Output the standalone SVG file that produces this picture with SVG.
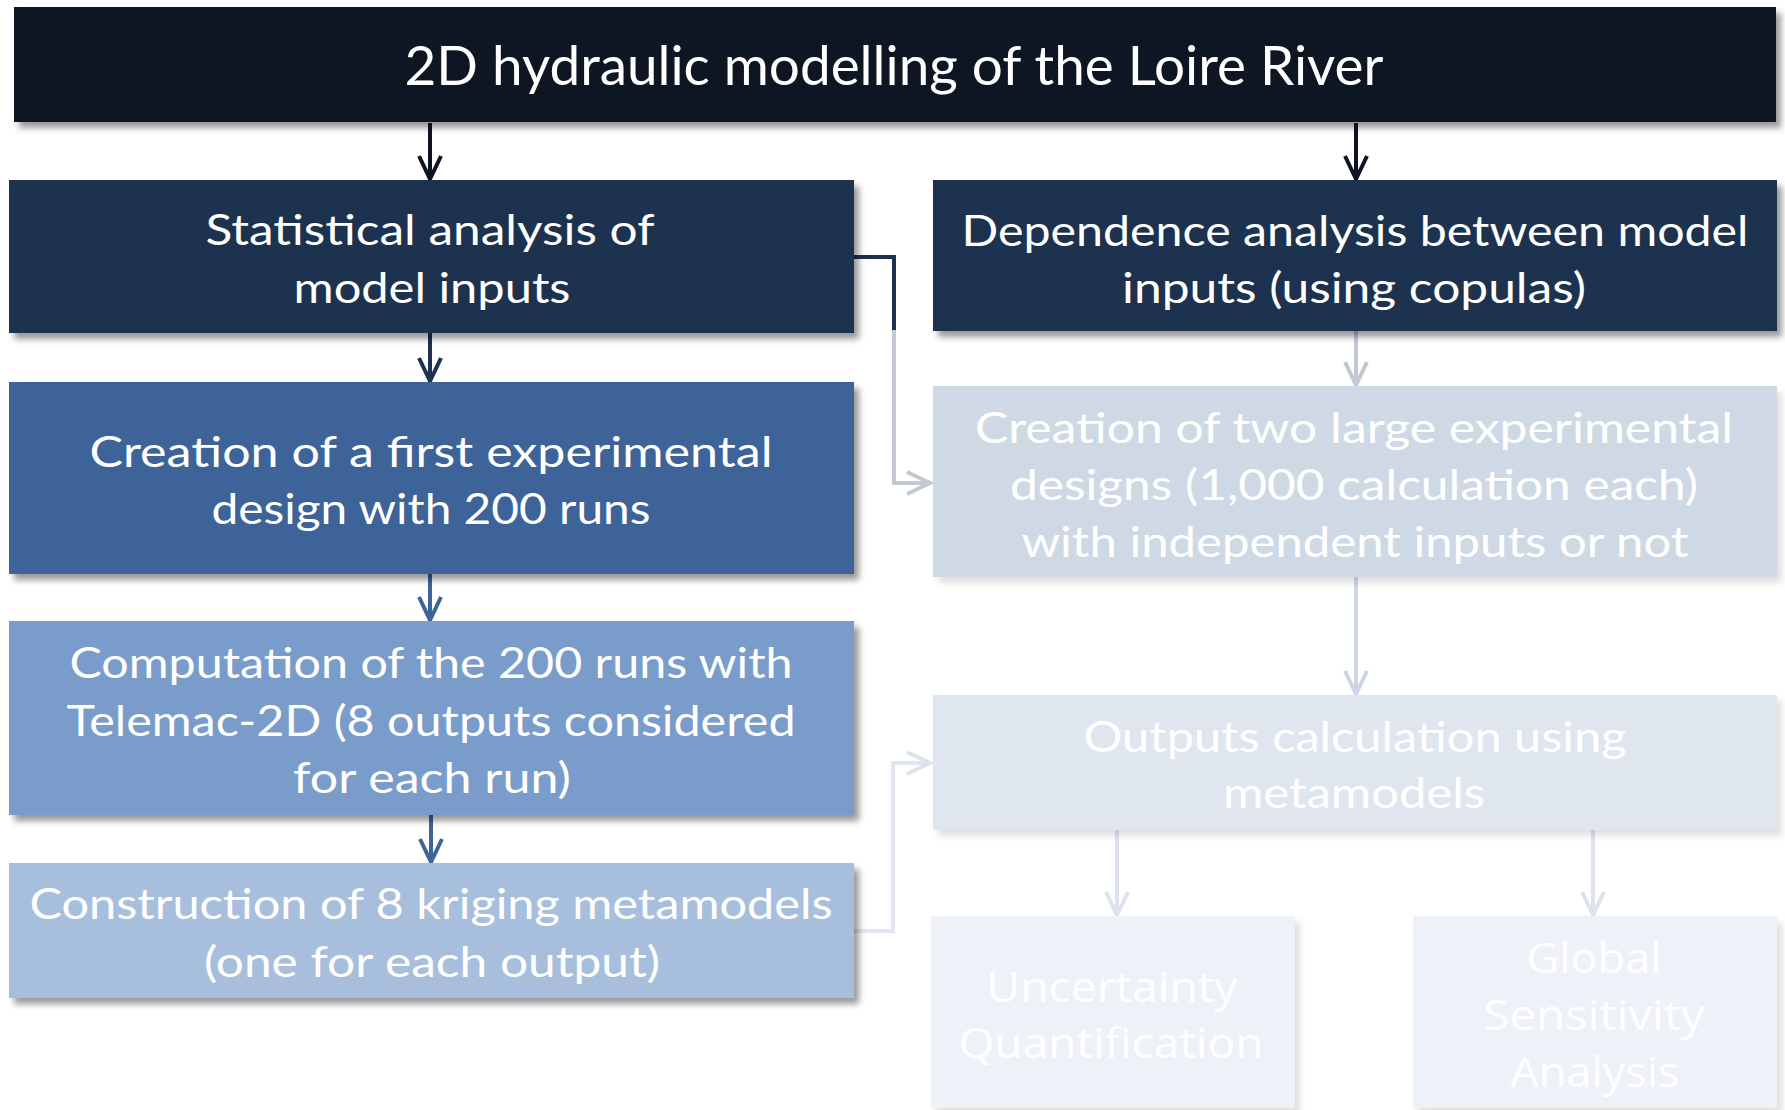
<svg xmlns="http://www.w3.org/2000/svg" width="1785" height="1110" viewBox="0 0 1785 1110">
<style>
.t{font-family:"Lato","Open Sans","DejaVu Sans",sans-serif;font-size:42px;fill:#ffffff;text-anchor:middle}
.t2{font-family:"Open Sans","Noto Sans","DejaVu Sans",sans-serif;font-size:42px;fill:#ffffff;text-anchor:middle}
.title{font-family:"Lato","Open Sans","DejaVu Sans",sans-serif;font-size:54px;fill:#ffffff;text-anchor:middle}
.c{fill:none;stroke-width:4}
</style>
<defs>
<filter id="sh" x="-5%" y="-10%" width="112%" height="130%">
<feDropShadow dx="5" dy="6" stdDeviation="3" flood-color="#000000" flood-opacity="0.4"/>
</filter>
<filter id="shl" x="-5%" y="-10%" width="112%" height="130%">
<feDropShadow dx="5" dy="6" stdDeviation="3" flood-color="#000000" flood-opacity="0.12"/>
</filter>
<marker id="m-dark" viewBox="-30 -16 34 32" refX="0" refY="0" markerWidth="34" markerHeight="32" markerUnits="userSpaceOnUse" orient="auto"><path d="M-24,-11 L-1,0 L-24,11" fill="none" stroke="#0f1520" stroke-width="4"/></marker>
<marker id="m-navy" viewBox="-30 -16 34 32" refX="0" refY="0" markerWidth="34" markerHeight="32" markerUnits="userSpaceOnUse" orient="auto"><path d="M-24,-11 L-1,0 L-24,11" fill="none" stroke="#1f3150" stroke-width="4"/></marker>
<marker id="m-blue" viewBox="-30 -16 34 32" refX="0" refY="0" markerWidth="34" markerHeight="32" markerUnits="userSpaceOnUse" orient="auto"><path d="M-24,-11 L-1,0 L-24,11" fill="none" stroke="#3e6499" stroke-width="4"/></marker>
<marker id="m-gray" viewBox="-30 -16 34 32" refX="0" refY="0" markerWidth="34" markerHeight="32" markerUnits="userSpaceOnUse" orient="auto"><path d="M-24,-11 L-1,0 L-24,11" fill="none" stroke="#c3c9d2" stroke-width="4"/></marker>
<marker id="m-light" viewBox="-30 -16 34 32" refX="0" refY="0" markerWidth="34" markerHeight="32" markerUnits="userSpaceOnUse" orient="auto"><path d="M-24,-11 L-1,0 L-24,11" fill="none" stroke="#cdd6e2" stroke-width="4"/></marker>
<marker id="m-pale" viewBox="-30 -16 34 32" refX="0" refY="0" markerWidth="34" markerHeight="32" markerUnits="userSpaceOnUse" orient="auto"><path d="M-24,-11 L-1,0 L-24,11" fill="none" stroke="#dce3ed" stroke-width="4"/></marker>
</defs>
<rect width="1785" height="1110" fill="#ffffff"/>

<g id="connectors">
<path class="c" d="M430,123 V180" stroke="#0f1520" marker-end="url(#m-dark)"/>
<path class="c" d="M1356,123 V180" stroke="#0f1520" marker-end="url(#m-dark)"/>
<path class="c" d="M430,333 V382" stroke="#1f3150" marker-end="url(#m-navy)"/>
<path class="c" d="M430,574 V621" stroke="#3e6499" marker-end="url(#m-blue)"/>
<path class="c" d="M431,815 V863" stroke="#3e6499" marker-end="url(#m-blue)"/>
<path class="c" d="M1356,331 V386" stroke="#c3c9d2" marker-end="url(#m-gray)"/>
<path class="c" d="M894,330 V483 H931" stroke="#c3c9d2" marker-end="url(#m-gray)"/>
<path class="c" d="M854,257 H894 V330" stroke="#1f3150"/>
<path class="c" d="M1356,577 V695" stroke="#cdd6e2" marker-end="url(#m-light)"/>
<path class="c" d="M854,931 H893 V763 H931" stroke="#e0e7f1" marker-end="url(#m-pale)"/>
<path class="c" d="M1117,830 V916" stroke="#dce3ed" marker-end="url(#m-pale)"/>
<path class="c" d="M1593,830 V916" stroke="#dce3ed" marker-end="url(#m-pale)"/>
</g>

<g id="title">
<rect x="14" y="7" width="1762" height="115" fill="#0f1520" filter="url(#sh)"/>
<text class="title" x="894" y="85" textLength="979" lengthAdjust="spacingAndGlyphs">2D hydraulic modelling of the Loire River</text>
</g>

<g id="statistical">
<rect x="9" y="180" width="845" height="153" fill="#1f3150" filter="url(#sh)"/>
<text class="t" x="430" y="245" textLength="449" lengthAdjust="spacingAndGlyphs">Statistical analysis of</text>
<text class="t" x="432" y="303" textLength="277" lengthAdjust="spacingAndGlyphs">model inputs</text>
</g>

<g id="first-design">
<rect x="9" y="382" width="845" height="192" fill="#3e6499" filter="url(#sh)"/>
<text class="t" x="431" y="467" textLength="683" lengthAdjust="spacingAndGlyphs">Creation of a first experimental</text>
<text class="t" x="431" y="524" textLength="439" lengthAdjust="spacingAndGlyphs">design with 200 runs</text>
</g>

<g id="computation">
<rect x="9" y="621" width="845" height="194" fill="#7a9ccb" filter="url(#sh)"/>
<text class="t" x="431" y="678" textLength="723" lengthAdjust="spacingAndGlyphs">Computation of the 200 runs with</text>
<text class="t" x="431" y="736" textLength="729" lengthAdjust="spacingAndGlyphs">Telemac-2D (8 outputs considered</text>
<text class="t" x="432" y="793" textLength="278" lengthAdjust="spacingAndGlyphs">for each run)</text>
</g>

<g id="kriging">
<rect x="9" y="863" width="845" height="135" fill="#a8bedd" filter="url(#sh)"/>
<text class="t" x="431" y="919" textLength="803" lengthAdjust="spacingAndGlyphs">Construction of 8 kriging metamodels</text>
<text class="t" x="432" y="977" textLength="456" lengthAdjust="spacingAndGlyphs">(one for each output)</text>
</g>

<g id="dependence">
<rect x="933" y="180" width="844" height="151" fill="#1f3150" filter="url(#sh)"/>
<text class="t" x="1355" y="246" textLength="787" lengthAdjust="spacingAndGlyphs">Dependence analysis between model</text>
<text class="t" x="1354" y="303" textLength="464" lengthAdjust="spacingAndGlyphs">inputs (using copulas)</text>
</g>

<g id="large-designs">
<rect x="933" y="386" width="844" height="191" fill="#cfd9e5" filter="url(#shl)"/>
<text class="t" x="1354" y="443" textLength="758" lengthAdjust="spacingAndGlyphs">Creation of two large experimental</text>
<text class="t" x="1354" y="500" textLength="688" lengthAdjust="spacingAndGlyphs">designs (1,000 calculation each)</text>
<text class="t" x="1355" y="557" textLength="667" lengthAdjust="spacingAndGlyphs">with independent inputs or not</text>
</g>

<g id="outputs">
<rect x="933" y="695" width="844" height="135" fill="#dfe6f0" filter="url(#shl)"/>
<text class="t" x="1355" y="752" textLength="543" lengthAdjust="spacingAndGlyphs">Outputs calculation using</text>
<text class="t" x="1354" y="808" textLength="262" lengthAdjust="spacingAndGlyphs">metamodels</text>
</g>

<g id="uncertainty">
<rect x="931" y="916" width="364" height="192" fill="#eef2f8" filter="url(#shl)"/>
<text class="t2" x="1112" y="1002" textLength="251" lengthAdjust="spacingAndGlyphs">Uncertainty</text>
<text class="t2" x="1111" y="1058" textLength="305" lengthAdjust="spacingAndGlyphs">Quantification</text>
</g>

<g id="sensitivity">
<rect x="1413" y="916" width="364" height="192" fill="#eef2f8" filter="url(#shl)"/>
<text class="t2" x="1594" y="973" textLength="135" lengthAdjust="spacingAndGlyphs">Global</text>
<text class="t2" x="1594" y="1030" textLength="221" lengthAdjust="spacingAndGlyphs">Sensitivity</text>
<text class="t2" x="1595" y="1087" textLength="169" lengthAdjust="spacingAndGlyphs">Analysis</text>
</g>
</svg>
